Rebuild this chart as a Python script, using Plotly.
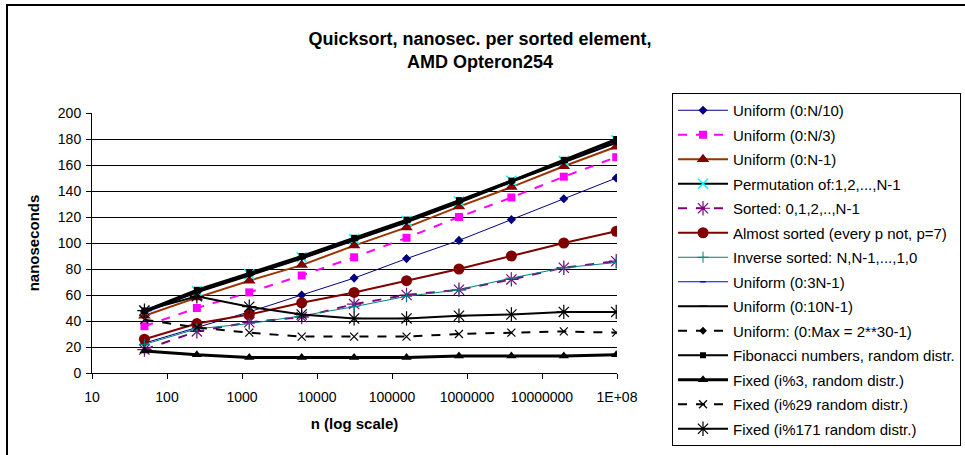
import plotly.graph_objects as go

n = [50, 250, 1250, 6250, 31250, 156250, 781250, 3906250, 19531250, 97656250]

uniform_n10 = [23, 35, 47, 60, 73, 88, 102, 118, 134, 150]
uniform_n3 = [36, 50, 62, 75, 89, 104, 120, 135, 151, 166]
uniform_n1 = [44, 58, 71, 83, 98, 112, 128, 143, 159, 174]
permutation = [48, 63, 76, 89, 103, 117, 132, 148, 163, 179]
sorted_ = [18, 32, 39, 43, 53, 60, 64, 72, 81, 86]
almost_sorted = [26, 38, 45, 54, 62, 71, 80, 90, 100, 109]
inverse_sorted = [22, 34, 38, 44, 51, 59, 64, 73, 81, 85]
uniform_3n = [46, 62, 75, 88, 102, 116, 131, 147, 162, 178]
uniform_10n = [47, 62, 75, 88, 102, 116, 131, 147, 162, 177]
uniform_max = [48, 63, 76, 89, 103, 117, 132, 147, 163, 178]
fibonacci = [48, 64, 77, 90, 104, 118, 133, 148, 164, 180]
fixed_3 = [17, 14, 12, 12, 12, 12, 13, 13, 13, 14]
fixed_29 = [41, 35, 31, 28, 28, 28, 30, 31, 32, 31]
fixed_171 = [48, 59, 51, 45, 42, 42, 44, 45, 47, 47]

series = [
    ("Uniform (0:N/10)", uniform_n10, dict(color="#000080", width=1, dash="solid"), dict(symbol="diamond", color="#000080", size=7)),
    ("Uniform (0:N/3)", uniform_n3, dict(color="#FF00FF", width=2, dash="dash"), dict(symbol="square", color="#FF00FF", size=8)),
    ("Uniform (0:N-1)", uniform_n1, dict(color="#993300", width=2, dash="solid"), dict(symbol="triangle-up", color="#800000", size=11)),
    ("Permutation of:1,2,...,N-1", permutation, dict(color="#000000", width=2, dash="solid"), dict(symbol="x-thin", color="#00FFFF", size=10, line=dict(color="#00FFFF", width=1.5))),
    ("Sorted: 0,1,2,..,N-1", sorted_, dict(color="#800080", width=2, dash="dash"), dict(symbol="asterisk-open", color="#800080", size=12, line=dict(color="#800080", width=1.2))),
    ("Almost sorted (every p not, p=7)", almost_sorted, dict(color="#800000", width=2, dash="solid"), dict(symbol="circle", color="#800000", size=11)),
    ("Inverse sorted: N,N-1,...,1,0", inverse_sorted, dict(color="#008080", width=1, dash="solid"), dict(symbol="cross-thin", color="#008080", size=8, line=dict(color="#008080", width=1))),
    ("Uniform (0:3N-1)", uniform_3n, dict(color="#0000FF", width=1, dash="solid"), dict(symbol="line-ew", color="#0000FF", size=4, line=dict(color="#0000FF", width=1.5))),
    ("Uniform (0:10N-1)", uniform_10n, dict(color="#000000", width=2, dash="solid"), dict(symbol="line-ew", color="#000000", size=6, line=dict(color="#000000", width=1.5))),
    ("Uniform: (0:Max = 2**30-1)", uniform_max, dict(color="#000000", width=2, dash="dash"), dict(symbol="diamond", color="#000000", size=6)),
    ("Fibonacci numbers, random distr.", fibonacci, dict(color="#000000", width=2, dash="solid"), dict(symbol="square", color="#000000", size=6)),
    ("Fixed (i%3, random distr.)", fixed_3, dict(color="#000000", width=3, dash="solid"), dict(symbol="triangle-up", color="#000000", size=9)),
    ("Fixed (i%29 random distr.)", fixed_29, dict(color="#000000", width=2, dash="dash"), dict(symbol="x-thin", color="#000000", size=8, line=dict(color="#000000", width=1.2))),
    ("Fixed (i%171 random distr.)", fixed_171, dict(color="#000000", width=2, dash="solid"), dict(symbol="asterisk-open", color="#000000", size=12, line=dict(color="#000000", width=1.2))),
]

fig = go.Figure()
for i, (name, vals, line, marker) in enumerate(series):
    fig.add_trace(go.Scatter(x=n, y=vals, name=name, mode="lines+markers",
                             line=line, marker=marker, legendgroup="g%d" % i))

W, H = 965, 455
ml, mr, mt, mb = 92, 348, 113, 82
pw, ph = W - ml - mr, H - mt - mb
FONT = "Liberation Sans, Arial, sans-serif"

fig.update_layout(
    width=W, height=H,
    margin=dict(l=ml, r=mr, t=mt, b=mb, autoexpand=False),
    paper_bgcolor="white", plot_bgcolor="white",
    font=dict(family=FONT, size=14, color="black"),
    title=dict(text="<b>Quicksort, nanosec. per sorted element,<br>AMD Opteron254</b>",
               x=480 / W, xanchor="center", y=(H - 45) / H, yanchor="top",
               font=dict(size=18, family=FONT)),
    xaxis=dict(type="log", range=[1, 8], tickvals=[10, 100, 1000, 10000, 100000, 1000000, 10000000, 100000000],
               ticktext=["10", "100", "1000", "10000", "100000", "1000000", "10000000", "1E+08"],
               showgrid=False, showline=True, linecolor="black", linewidth=1,
               ticks="outside", ticklen=5, tickcolor="black", ticklabelstandoff=6,
               title=dict(text="<b>n (log scale)</b>", font=dict(size=15), standoff=14),
               zeroline=False),
    yaxis=dict(range=[0, 200], dtick=20, showgrid=True, gridcolor="black", gridwidth=1,
               showline=True, linecolor="black", linewidth=1,
               ticks="outside", ticklen=5, tickcolor="black", ticklabelstandoff=2,
               title=dict(text="<b>nanoseconds</b>", font=dict(size=15), standoff=14),
               zeroline=False),
    legend=dict(x=(672 - ml) / pw, xanchor="left", y=(H - mb - 93) / ph, yanchor="top",
                bordercolor="black", borderwidth=1, bgcolor="white",
                font=dict(size=15, family=FONT), tracegroupgap=2, itemwidth=50,
                maxheight=440),
    showlegend=True,
)

fig.add_shape(type="rect", xref="paper", yref="paper",
              x0=(7 - ml) / pw, x1=(W + 10 - ml) / pw,
              y0=(H - mb - (H + 10)) / ph, y1=(H - mb - 5) / ph,
              line=dict(color="black", width=2), layer="below")

fig.write_html("out.html", post_script="document.body.style.margin='0px';",
               config={"displayModeBar": False})
